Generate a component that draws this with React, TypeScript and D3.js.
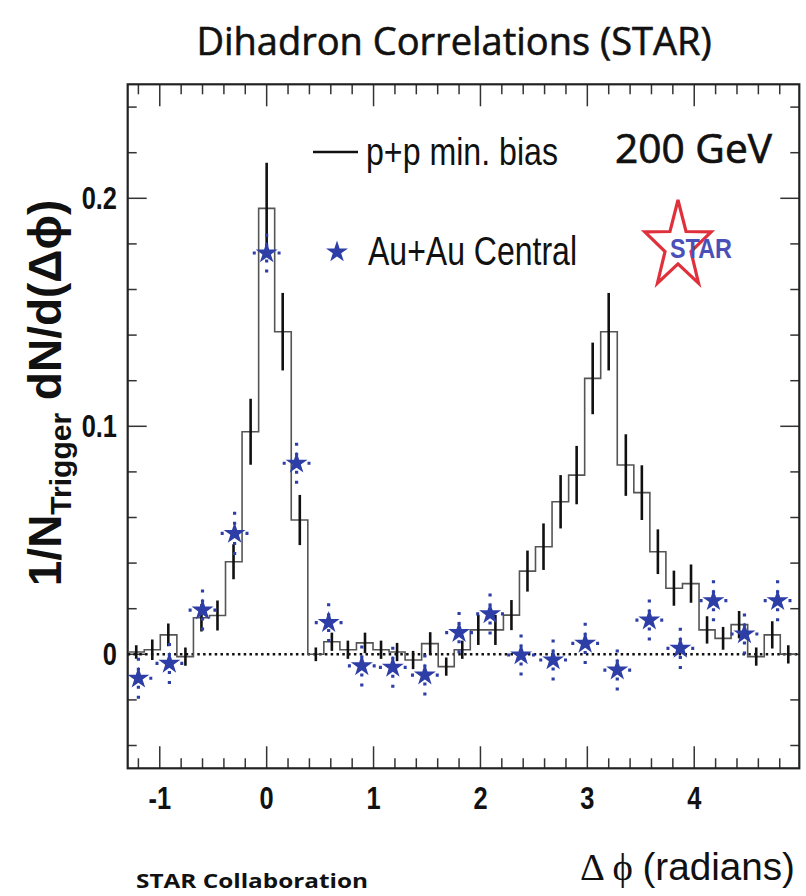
import React from "react";
import * as d3 from "d3";

// ---------- data ----------
// p+p minimum bias histogram: bin centres (rad), values, statistical errors
const ppDphi = [-1.22, -1.07, -0.92, -0.76, -0.61, -0.46, -0.31, -0.15, 0.0, 0.15, 0.31, 0.46, 0.61, 0.76, 0.92, 1.07, 1.22, 1.37, 1.53, 1.68, 1.83, 1.98, 2.14, 2.29, 2.44, 2.59, 2.75, 2.9, 3.05, 3.2, 3.36, 3.51, 3.66, 3.81, 3.97, 4.12, 4.27, 4.42, 4.58, 4.73, 4.88];
const ppValue = [0.001, 0.002, 0.0085, -0.001, 0.016, 0.017, 0.0406, 0.0976, 0.1956, 0.1415, 0.0589, 0.0, 0.0055, 0.002, 0.005, 0.002, 0.001, -0.0025, 0.0047, -0.0054, 0.002, 0.0107, 0.0107, 0.0172, 0.0365, 0.0472, 0.0669, 0.0786, 0.121, 0.1415, 0.083, 0.0709, 0.045, 0.029, 0.031, 0.0107, 0.007, 0.013, -0.001, 0.0085, 0.0];
const ppError = [0.003, 0.0045, 0.005, 0.004, 0.006, 0.0066, 0.0077, 0.0145, 0.02, 0.017, 0.011, 0.003, 0.004, 0.004, 0.0045, 0.004, 0.004, 0.004, 0.005, 0.004, 0.004, 0.0066, 0.0066, 0.0066, 0.009, 0.0102, 0.0117, 0.0128, 0.0157, 0.017, 0.0135, 0.012, 0.0098, 0.0077, 0.0084, 0.006, 0.005, 0.006, 0.004, 0.006, 0.004];

// Au+Au central points
const auDphi = [-1.2, -0.91, -0.6, -0.3, 0.0, 0.28, 0.58, 0.89, 1.18, 1.48, 1.8, 2.09, 2.38, 2.68, 2.98, 3.28, 3.58, 3.87, 4.18, 4.47, 4.78];
const auValue = [-0.0105, -0.004, 0.0194, 0.053, 0.176, 0.0838, 0.0139, -0.0051, -0.0057, -0.0091, 0.0095, 0.0177, -0.0003, -0.0025, 0.0048, -0.0069, 0.015, 0.0026, 0.0235, 0.0089, 0.0235];
const auError = [0.009, 0.009, 0.009, 0.0095, 0.0085, 0.009, 0.0085, 0.009, 0.009, 0.009, 0.009, 0.009, 0.009, 0.009, 0.009, 0.009, 0.009, 0.009, 0.009, 0.009, 0.009];
const auHalfWidth = [0.13];

const xTickValues = [-1, 0, 1, 2, 3, 4];
const xTickLabels = ["-1", "0", "1", "2", "3", "4"];
const yTickValues = [0, 0.1, 0.2];
const yTickLabels = ["0", "0.1", "0.2"];
const xDomain = [-1.3, 4.983];
const yDomain = [-0.05, 0.25];

const titleText = "Dihadron Correlations (STAR)";
const legendPP = "p+p min. bias";
const legendAu = "Au+Au Central";
const energyText = "200 GeV";
const creditText = "STAR Collaboration";

// ---------- layout ----------
const W = 806;
const H = 896;
const L = 127.7;
const R = 799.3;
const T = 84.3;
const B = 768.3;

const BLUE = "#2d3ea6";

export default function App() {
  const x = d3.scaleLinear().domain(xDomain).range([L, R]);
  const y = d3.scaleLinear().domain(yDomain).range([B, T]);

  const xMinor = d3.ticks(xDomain[0], xDomain[1], 30);
  const yMinor = d3.ticks(yDomain[0], yDomain[1], 15);

  // histogram path
  const n = ppDphi.length;
  const edges: number[] = [];
  edges.push(ppDphi[0] - (ppDphi[1] - ppDphi[0]) / 2);
  for (let i = 1; i < n; i++) edges.push((ppDphi[i - 1] + ppDphi[i]) / 2);
  edges.push(ppDphi[n - 1] + (ppDphi[n - 1] - ppDphi[n - 2]) / 2);
  let hist = `M${x(edges[0])},${y(ppValue[0])}`;
  for (let i = 0; i < n; i++) {
    if (i > 0) hist += `V${y(ppValue[i])}`;
    hist += `H${x(edges[i + 1])}`;
  }

  const star = d3.symbol(d3.symbolStar, 150)();

  // STAR logo star outline
  const logoCx = 678, logoCy = 246, logoR = 46, logoSx = 0.76;
  const logoPts: string[] = [];
  for (let k = 0; k < 10; k++) {
    const a = -Math.PI / 2 + (k * Math.PI) / 5;
    const r = k % 2 === 0 ? logoR : logoR * 0.39;
    logoPts.push(`${logoCx + r * Math.cos(a) * logoSx},${logoCy + r * Math.sin(a)}`);
  }

  const sans = "'Liberation Sans', Arial, Helvetica, sans-serif";
  const humanist = "'Open Sans', 'Noto Sans', sans-serif";

  return (
    <svg
      width={W}
      height={H}
      viewBox={`0 0 ${W} ${H}`}
      style={{ position: "absolute", left: 0, top: 0, background: "#fff" }}
    >
      <defs>
        <clipPath id="plotClip">
          <rect x={L} y={T} width={R - L} height={B - T} />
        </clipPath>
      </defs>
      <rect x={0} y={0} width={W} height={H} fill="#fff" />

      {/* title */}
      <text x={454} y={55} textAnchor="middle" fontFamily={humanist} fontSize={38} fill="#111" stroke="#111" strokeWidth={0.6}>
        {titleText}
      </text>

      {/* ticks */}
      <g stroke="#333" strokeWidth={1.5}>
        {xMinor.map((t) => {
          const major = xTickValues.some((v) => Math.abs(v - t) < 1e-9);
          const len = major ? 22 : 10;
          return (
            <g key={`xt${t}`}>
              <line x1={x(t)} x2={x(t)} y1={B} y2={B - len} />
              <line x1={x(t)} x2={x(t)} y1={T} y2={T + len} />
            </g>
          );
        })}
        {yMinor.map((t) => {
          const major = yTickValues.some((v) => Math.abs(v - t) < 1e-9);
          const len = major ? 19 : 9;
          return (
            <g key={`yt${t}`}>
              <line x1={L} x2={L + len} y1={y(t)} y2={y(t)} />
              <line x1={R} x2={R - len} y1={y(t)} y2={y(t)} />
            </g>
          );
        })}
      </g>

      {/* frame */}
      <rect x={L} y={T} width={R - L} height={B - T} fill="none" stroke="#222" strokeWidth={2.2} />

      {/* tick labels */}
      {xTickValues.map((v, i) => (
        <g key={`xl${v}`} transform={`translate(${x(v)},809) scale(0.82,1)`}>
          <text textAnchor="middle" fontFamily={sans} fontWeight="bold" fontSize={31} fill="#111">
            {xTickLabels[i]}
          </text>
        </g>
      ))}
      {yTickValues.map((v, i) => (
        <g key={`yl${v}`} transform={`translate(117,${y(v) + 11}) scale(0.82,1)`}>
          <text textAnchor="end" fontFamily={sans} fontWeight="bold" fontSize={31} fill="#111">
            {yTickLabels[i]}
          </text>
        </g>
      ))}

      {/* zero line */}
      <line x1={L} x2={R} y1={y(0)} y2={y(0)} stroke="#111" strokeWidth={2.5} strokeDasharray="2.5 3.3" />

      <g clipPath="url(#plotClip)">
        {/* p+p histogram */}
        <path d={hist} fill="none" stroke="#555" strokeWidth={1.6} />
        {ppDphi.map((c, i) => (
          <line
            key={`pe${i}`}
            x1={x(c)}
            x2={x(c)}
            y1={y(ppValue[i] - ppError[i])}
            y2={y(ppValue[i] + ppError[i])}
            stroke="#111"
            strokeWidth={2.6}
          />
        ))}

        {/* Au+Au stars */}
        {auDphi.map((c, i) => {
          const cx = x(c);
          const cy = y(auValue[i]);
          const hw = auHalfWidth[0];
          return (
            <g key={`au${i}`} stroke={BLUE} strokeWidth={3.2} strokeDasharray="3 7">
              <line x1={cx} x2={cx} y1={y(auValue[i] + auError[i])} y2={cy} />
              <line x1={cx} x2={cx} y1={y(auValue[i] - auError[i])} y2={cy} />
              <line x1={x(c - hw)} x2={cx} y1={cy} y2={cy} />
              <line x1={x(c + hw)} x2={cx} y1={cy} y2={cy} />
            </g>
          );
        })}
        {auDphi.map((c, i) => (
          <path key={`as${i}`} d={star || ""} transform={`translate(${x(c)},${y(auValue[i])})`} fill={BLUE} />
        ))}
      </g>

      {/* legend */}
      <line x1={313} x2={358} y1={152} y2={152} stroke="#111" strokeWidth={2.6} />
      <text x={366} y={165} fontFamily={sans} fontSize={38} textLength={192} lengthAdjust="spacingAndGlyphs" fill="#111">
        {legendPP}
      </text>
      <path d={star || ""} transform="translate(337,252)" fill={BLUE} />
      <text x={368} y={265} fontFamily={sans} fontSize={40} textLength={209} lengthAdjust="spacingAndGlyphs" fill="#111">
        {legendAu}
      </text>
      <text x={615} y={163} fontFamily={humanist} fontSize={40} textLength={157} lengthAdjust="spacingAndGlyphs" fill="#111" stroke="#111" strokeWidth={0.7}>
        {energyText}
      </text>

      {/* STAR logo */}
      <polygon points={logoPts.join(" ")} fill="none" stroke="#e0303c" strokeWidth={3.2} strokeLinejoin="miter" />
      <text x={670} y={258} fontFamily={sans} fontWeight="bold" fontSize={28} textLength={62} lengthAdjust="spacingAndGlyphs" fill="#4a50b8">
        STAR
      </text>

      {/* y axis title */}
      <text
        transform="translate(61,393) rotate(-90)"
        textAnchor="middle"
        fontFamily={sans}
        fontWeight="bold"
        fontSize={46}
        fill="#111"
      >
        <tspan>1/N</tspan>
        <tspan fontSize={30} dy={10}>Trigger</tspan>
        <tspan dy={-10}> dN/d(Δϕ)</tspan>
      </text>

      {/* x axis title */}
      <text x={580} y={880} fontSize={38} textLength={215} lengthAdjust="spacingAndGlyphs" fill="#111">
        <tspan fontFamily="'Liberation Serif', 'DejaVu Serif', serif">Δ ϕ </tspan>
        <tspan fontFamily={sans}>(radians)</tspan>
      </text>

      {/* credit */}
      <text x={136} y={888} fontFamily={humanist} fontWeight="bold" fontSize={20} textLength={232} lengthAdjust="spacingAndGlyphs" fill="#111">
        {creditText}
      </text>
    </svg>
  );
}
